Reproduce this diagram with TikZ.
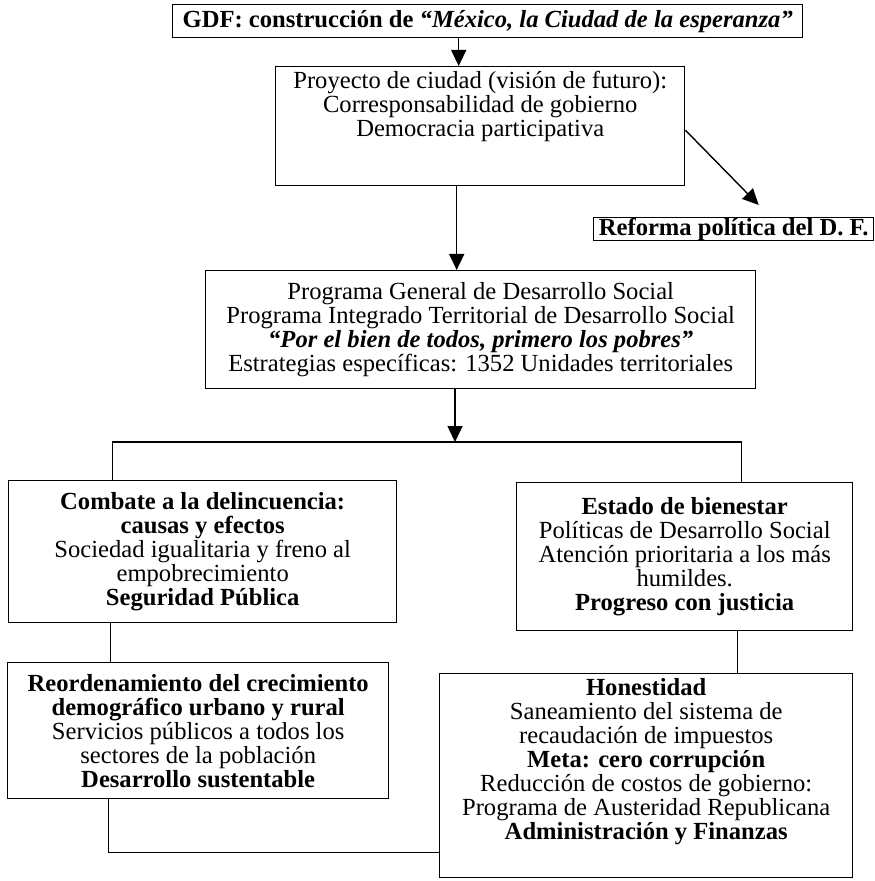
\documentclass[tikz,border=0pt]{standalone}
\usepackage{fontspec}
\setmainfont{Liberation Serif}
\usetikzlibrary{arrows.meta}

\begin{document}
\begin{tikzpicture}[x=0.5pt, y=-0.5pt,
    caja/.style={draw, line width=0.7pt, align=center, anchor=north west, inner sep=2pt, font=\fontsize{12.3}{12}\selectfont},
    titulo/.style={caja, inner sep=1pt, font=\fontsize{12.3}{12}\selectfont\bfseries},
    flecha/.style={-{Triangle[length=8pt, width=7.5pt]}, line width=0.7pt},
    linea/.style={line width=0.7pt}
]
\useasboundingbox (0,0) rectangle (874,881);

\node[titulo, minimum width=315pt, minimum height=16.5pt] (gdf) at (172,4) {GDF: construcción de \textit{“México, la Ciudad de la esperanza”}};
\node[caja, minimum width=204.5pt, minimum height=59.5pt] (proy) at (275,66) {Proyecto de ciudad (visión de futuro):\\Corresponsabilidad de gobierno\\Democracia participativa\\[10.5pt]\mbox{}};
\node[titulo, inner ysep=0pt, minimum width=140pt, minimum height=10pt] (reforma) at (593,217) {Reforma política del D. F.};
\node[caja, minimum width=275pt, minimum height=59pt] (prog) at (205,270) {Programa General de Desarrollo Social\\Programa Integrado Territorial de Desarrollo Social\\\textbf{\textit{“Por el bien de todos, primero los pobres”}}\\Estrategias específicas: 1352 Unidades territoriales};
\node[caja, minimum width=194pt, minimum height=71pt] (combate) at (8,480) {\textbf{Combate a la delincuencia:}\\\textbf{causas y efectos}\\Sociedad igualitaria y freno al\\empobrecimiento\\\textbf{Seguridad Pública}};
\node[caja, minimum width=168pt, minimum height=74pt] (estado) at (516,482) {\textbf{Estado de bienestar}\\Políticas de Desarrollo Social\\Atención prioritaria a los más\\humildes.\\\textbf{Progreso con justicia}};
\node[caja, minimum width=190.5pt, minimum height=68pt] (reord) at (7,662) {\textbf{Reordenamiento del crecimiento}\\\textbf{demográfico urbano y rural}\\Servicios públicos a todos los\\sectores de la población\\\textbf{Desarrollo sustentable}};
\node[caja, minimum width=206.5pt, minimum height=102pt] (hon) at (439,673) {\textbf{Honestidad}\\Saneamiento del sistema de\\recaudación de impuestos\\\textbf{Meta: cero corrupción}\\Reducción de costos de gobierno:\\Programa de Austeridad Republicana\\\textbf{Administración y Finanzas}\\[5pt]\mbox{}};

\coordinate (rama) at (455,442);

\draw[flecha] ([xshift=-10.75pt]proy.north |- gdf.south) -- ([xshift=-10.75pt]proy.north);
\draw[flecha] ([xshift=-11.75pt]proy.south) -- ([xshift=-11.75pt]proy.south |- prog.north);
\draw[flecha] ([yshift=-2pt]proy.east) -- ([xshift=12.5pt,yshift=6pt]reforma.north);
\draw[flecha] (prog.south -| rama) -- (rama);
\draw[linea] ([xshift=-45pt]combate.north) |- (rama) -| ([xshift=28.5pt]estado.north);
\draw[linea] ([xshift=-46pt]combate.south) -- ([xshift=-46pt]combate.south |- reord.north);
\draw[linea] ([xshift=26.5pt]estado.south) -- ([xshift=26.5pt]estado.south |- hon.north);
\draw[linea] ([xshift=-44.75pt]reord.south) |- ([yshift=-38.5pt]hon.west);

\end{tikzpicture}
\end{document}
